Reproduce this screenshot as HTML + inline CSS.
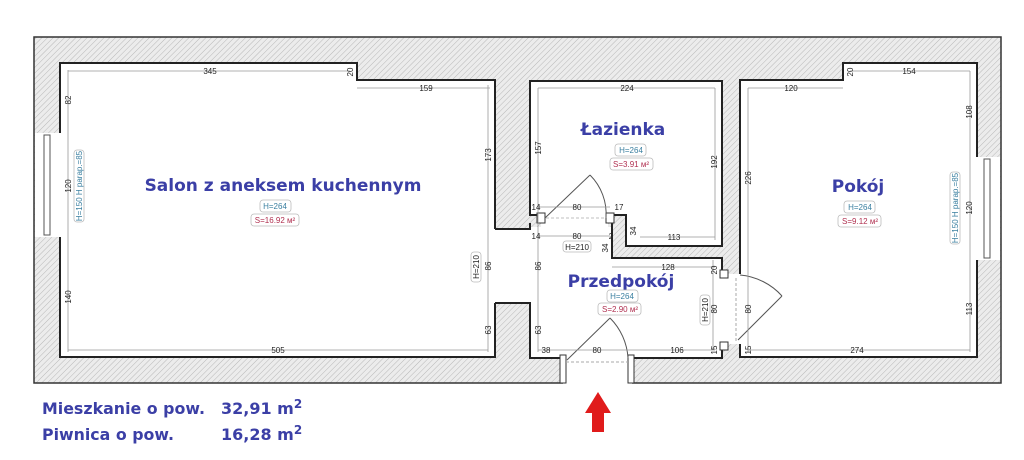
<!DOCTYPE html>
<html><head><meta charset="utf-8"><style>
html,body{margin:0;padding:0;background:#fff;width:1024px;height:460px;overflow:hidden}
svg{display:block}
.d{font:8px "Liberation Sans",sans-serif;fill:#222}
.dl{stroke:#999;stroke-width:0.8;fill:none}
.rn{font:bold 17px "DejaVu Sans","Liberation Sans",sans-serif;fill:#3b3fa6}
.h{font:8px "Liberation Sans",sans-serif;fill:#3a7fa0}
.s{font:8px "Liberation Sans",sans-serif;fill:#b03050}
.bx{fill:#fff;stroke:#bbb;stroke-width:0.8}
.w{fill:#fff;stroke:#222;stroke-width:2}
.b{font:bold 16px "DejaVu Sans","Liberation Sans",sans-serif;fill:#3b3fa6}
</style></head><body>
<svg width="1024" height="460" viewBox="0 0 1024 460" xmlns="http://www.w3.org/2000/svg">
<defs>
<pattern id="hat" width="4" height="4" patternUnits="userSpaceOnUse" patternTransform="rotate(45)">
<rect width="4" height="4" fill="#ececec"/><line x1="0" y1="0" x2="0" y2="4" stroke="#b8b8b8" stroke-width="1"/>
</pattern>
</defs>
<rect x="34" y="37" width="967" height="346" fill="url(#hat)" stroke="#333" stroke-width="1.5"/>
<!-- windows -->
<rect x="35" y="133" width="25" height="104" fill="#fff"/>
<rect x="44" y="135" width="6" height="100" fill="#fff" stroke="#555" stroke-width="1"/>
<rect x="977" y="157" width="23" height="103" fill="#fff"/>
<rect x="984" y="159" width="6" height="99" fill="#fff" stroke="#555" stroke-width="1"/>
<!-- salon -->
<path d="M60,63 H357 V80 H495 V357 H60 Z" fill="#fff"/>
<path class="w" fill="none" style="fill:none" d="M60,133 V63 H357 V80 H495 V229 M495,303 V357 H60 V237"/>
<!-- passage + przedpokoj -->
<path d="M494,230 H530 V227 H612 V258 H722 V358 H530 V303 H494 Z" fill="#fff"/>
<path style="fill:none;stroke:#222;stroke-width:2" d="M495,229 H530 V223 M612,223 V258 H722 V275 M722,343 V358 H632 M563,358 H530 V303 H495" />
<!-- lazienka -->
<path d="M530,81 H722 V246 H626 V215 H530 Z" fill="#fff" stroke="#222" stroke-width="2"/>
<rect x="541" y="214" width="67" height="14" fill="#fff"/>
<line x1="541" y1="218" x2="608" y2="218" stroke="#aaa" stroke-dasharray="3,2" stroke-width="0.8"/>
<rect x="537" y="213" width="8" height="10" fill="#fff" stroke="#333"/>
<rect x="606" y="213" width="8" height="10" fill="#fff" stroke="#333"/>
<path d="M545,218 L590,175 M590,175 A55,55 0 0 1 606,218" fill="none" stroke="#555" stroke-width="1"/>
<!-- pokoj -->
<path d="M740,80 H843 V63 H977 V357 H740 Z" fill="#fff"/>
<path style="fill:none;stroke:#222;stroke-width:2" d="M740,275 V80 H843 V63 H977 V157 M977,260 V357 H740 V343"/>
<!-- pokoj door -->
<rect x="721" y="274" width="20" height="70" fill="#fff"/>
<rect x="720" y="270" width="8" height="8" fill="#fff" stroke="#333"/>
<rect x="720" y="342" width="8" height="8" fill="#fff" stroke="#333"/>
<line x1="736" y1="278" x2="736" y2="342" stroke="#aaa" stroke-dasharray="3,2"/>
<path d="M738,340 L782,296 M782,296 A64,64 0 0 0 740,275" fill="none" stroke="#555"/>
<!-- entrance -->
<rect x="563" y="356" width="69" height="28" fill="#fff"/>
<rect x="560" y="355" width="6" height="28" fill="#fff" stroke="#333"/>
<rect x="628" y="355" width="6" height="28" fill="#fff" stroke="#333"/>
<line x1="566" y1="362" x2="628" y2="362" stroke="#aaa" stroke-dasharray="3,2"/>
<path d="M567,360 L610,318 M610,318 A62,62 0 0 1 628,358" fill="none" stroke="#555"/>
<!-- dimension lines -->
<g class="dl">
<line x1="68" y1="71" x2="350" y2="71"/><line x1="357" y1="88" x2="490" y2="88"/>
<line x1="68" y1="70" x2="68" y2="352"/><line x1="488" y1="85" x2="488" y2="352"/>
<line x1="68" y1="350" x2="488" y2="350"/>
<line x1="538" y1="88" x2="715" y2="88"/><line x1="538" y1="88" x2="538" y2="352"/>
<line x1="715" y1="88" x2="715" y2="240"/><line x1="538" y1="236" x2="610" y2="236"/>
<line x1="538" y1="207" x2="610" y2="207"/><line x1="640" y1="237" x2="715" y2="237"/>
<line x1="612" y1="267" x2="715" y2="267"/><line x1="538" y1="350" x2="715" y2="350"/>
<line x1="713" y1="260" x2="713" y2="350"/><line x1="748" y1="88" x2="748" y2="352"/>
<line x1="748" y1="350" x2="970" y2="350"/><line x1="748" y1="88" x2="843" y2="88"/>
<line x1="850" y1="71" x2="970" y2="71"/><line x1="970" y1="71" x2="970" y2="352"/>
</g>
<g class="d" text-anchor="middle">
<text x="210" y="74">345</text><text x="426" y="91">159</text>
<text x="627" y="91">224</text><text x="791" y="91">120</text><text x="909" y="74">154</text>
<text x="278" y="353">505</text><text x="546" y="353">38</text><text x="597" y="353">80</text><text x="677" y="353">106</text><text x="857" y="353">274</text>
<text x="577" y="210">80</text><text x="577" y="239">80</text><text x="536" y="210">14</text><text x="536" y="239">14</text><text x="619" y="210">17</text><text x="674" y="240">113</text><text x="668" y="270">128</text><text x="611" y="239">2</text>
</g>
<g class="d" text-anchor="middle">
<text transform="translate(71,100) rotate(-90)">82</text>
<text transform="translate(71,186) rotate(-90)">120</text>
<text transform="translate(71,297) rotate(-90)">140</text>
<text transform="translate(491,155) rotate(-90)">173</text>
<text transform="translate(491,266) rotate(-90)">86</text>
<text transform="translate(491,330) rotate(-90)">63</text>
<text transform="translate(541,148) rotate(-90)">157</text>
<text transform="translate(541,266) rotate(-90)">86</text>
<text transform="translate(541,330) rotate(-90)">63</text>
<text transform="translate(717,162) rotate(-90)">192</text>
<text transform="translate(636,231) rotate(-90)">34</text>
<text transform="translate(608,248) rotate(-90)">34</text>
<text transform="translate(751,178) rotate(-90)">226</text>
<text transform="translate(751,309) rotate(-90)">80</text>
<text transform="translate(717,309) rotate(-90)">80</text>
<text transform="translate(972,112) rotate(-90)">108</text>
<text transform="translate(972,208) rotate(-90)">120</text>
<text transform="translate(972,309) rotate(-90)">113</text>
<text transform="translate(353,72) rotate(-90)">20</text>
<text transform="translate(853,72) rotate(-90)">20</text>
<text transform="translate(717,270) rotate(-90)">20</text>
<text transform="translate(717,350) rotate(-90)">15</text>
<text transform="translate(751,350) rotate(-90)">15</text>
</g>
<!-- small tags -->
<rect class="bx" x="74" y="150" width="10" height="72" rx="3"/>
<text class="h" transform="translate(82,186) rotate(-90)" text-anchor="middle" font-size="7">H=150 H parap.=85</text>
<rect class="bx" x="950" y="172" width="10" height="72" rx="3"/>
<text class="h" transform="translate(958,208) rotate(-90)" text-anchor="middle" font-size="7">H=150 H parap.=85</text>
<rect class="bx" x="471" y="252" width="10" height="30" rx="3"/>
<text class="d" transform="translate(479,267) rotate(-90)" text-anchor="middle" font-size="7">H=210</text>
<rect class="bx" x="700" y="295" width="10" height="30" rx="3"/>
<text class="d" transform="translate(708,310) rotate(-90)" text-anchor="middle" font-size="7">H=210</text>
<rect class="bx" x="563" y="241" width="28" height="11" rx="3"/><text class="d" x="577" y="250" text-anchor="middle">H=210</text>
<text class="rn" x="283" y="191" text-anchor="middle">Salon z aneksem kuchennym</text>
<rect class="bx" x="260" y="200" width="31" height="12" rx="3"/><text class="h" x="275" y="209" text-anchor="middle">H=264</text>
<rect class="bx" x="251" y="214" width="48" height="12" rx="3"/><text class="s" x="275" y="223" text-anchor="middle">S=16.92 м²</text>
<text class="rn" x="623" y="135" text-anchor="middle">Łazienka</text>
<rect class="bx" x="615" y="144" width="31" height="12" rx="3"/><text class="h" x="631" y="153" text-anchor="middle">H=264</text>
<rect class="bx" x="610" y="158" width="43" height="12" rx="3"/><text class="s" x="631" y="167" text-anchor="middle">S=3.91 м²</text>
<text class="rn" x="858" y="192" text-anchor="middle">Pokój</text>
<rect class="bx" x="844" y="201" width="31" height="12" rx="3"/><text class="h" x="860" y="210" text-anchor="middle">H=264</text>
<rect class="bx" x="838" y="215" width="43" height="12" rx="3"/><text class="s" x="860" y="224" text-anchor="middle">S=9.12 м²</text>
<text class="rn" x="621" y="287" text-anchor="middle">Przedpokój</text>
<rect class="bx" x="607" y="290" width="31" height="12" rx="3"/><text class="h" x="622" y="299" text-anchor="middle">H=264</text>
<rect class="bx" x="598" y="303" width="43" height="12" rx="3"/><text class="s" x="620" y="312" text-anchor="middle">S=2.90 м²</text>
<!-- arrow -->
<path d="M598,392 L611,413 H604 V432 H592 V413 H585 Z" fill="#e01b1b"/>
<!-- summary -->
<text class="b" x="42" y="414" textLength="163" lengthAdjust="spacingAndGlyphs">Mieszkanie o pow.</text>
<text class="b" x="221" y="414">32,91 m<tspan dy="-6" font-size="12">2</tspan></text>
<text class="b" x="42" y="440" textLength="132" lengthAdjust="spacingAndGlyphs">Piwnica o pow.</text>
<text class="b" x="221" y="440">16,28 m<tspan dy="-6" font-size="12">2</tspan></text>
</svg>
</body></html>
